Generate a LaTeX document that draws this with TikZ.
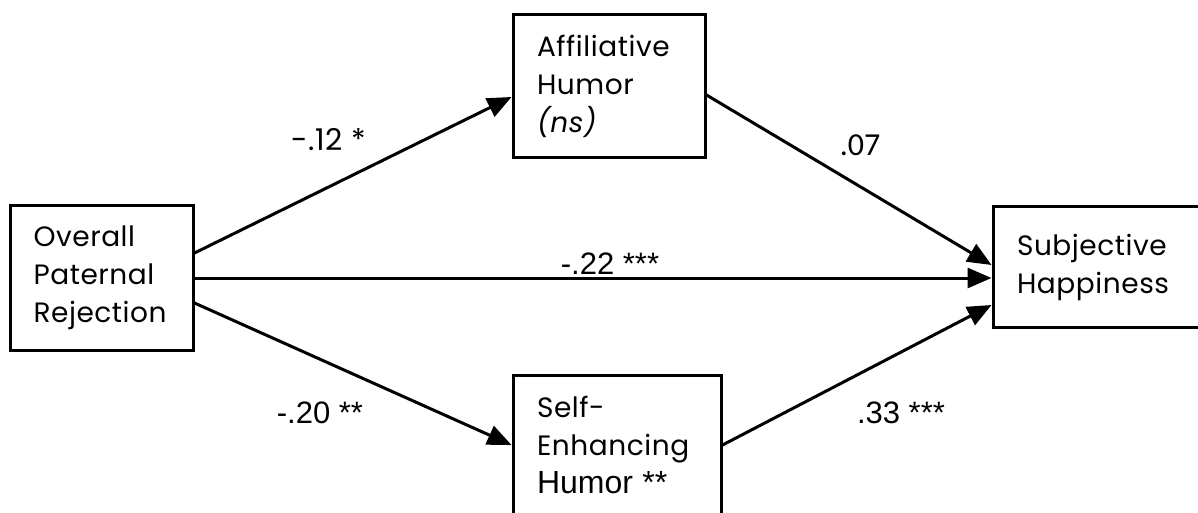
\documentclass[tikz,border=0pt]{standalone}
\usepackage{fontspec}
\setmainfont{Poppins}[LetterSpace=2]
\newfontfamily\arialfont{Liberation Sans}
\newfontfamily\calfont{Carlito}
\usetikzlibrary{arrows.meta}
\hyphenpenalty=10000
\exhyphenpenalty=10000

\tikzset{
  var/.style={draw, line width=1.5pt, align=left, inner xsep=12pt,
    font=\fontsize{14}{19}\selectfont},
  path/.style={-{Triangle[length=12pt,width=10pt]}, line width=1.5pt},
  coef/.style={font=\fontsize{15}{16}\selectfont},
  acoef/.style={font=\arialfont\fontsize{15.5}{16}\selectfont}
}

\begin{document}
\begin{tikzpicture}[x=0.5pt, y=-0.5pt]

  \useasboundingbox (0,0) rectangle (1198,513);

  \node[var, text width=68pt, minimum width=91.5pt, minimum height=72pt, inner xsep=11.5pt]
    (rej) at (101.5, 278) {Overall\\Paternal\\Rejection};
  \node[var, text width=72pt, minimum width=96pt, minimum height=71.5pt]
    (aff) at (609, 86.5) {Affiliative\\Humor\\\textit{(ns)}};
  \node[var, text width=80pt, minimum width=104pt, minimum height=70pt]
    (self) at (617, 445) {Self-\\Enhancing\\{\arialfont\fontsize{16}{19}\selectfont Humor **}};
  \node[var, text width=79.5pt, minimum width=103.5pt, minimum height=60pt]
    (hap) at (1096.5, 267) {Subjective\\Happiness};

  \node[coef] (c12) at (329, 140) {-.12 *};
  \node[acoef] (c20) at (320, 413) {-.20 **};
  \node[coef, font=\calfont\fontsize{16}{16}\selectfont] (c07) at (860, 145) {.07};
  \node[acoef] (c33) at (901, 413) {.33 ***};
  \node[acoef] (c22) at (610, 264) {-.22 ***};

  \draw [path] ([yshift=12.5pt]rej.east) -- ([yshift=-5.25pt]aff.west);
  \draw [path] (rej.east) -- ([yshift=-5.5pt]hap.west);
  \draw [path] ([yshift=-12.5pt]rej.east) -- (self.west);
  \draw [path] ([yshift=-4.25pt]aff.east) -- ([yshift=1pt]hap.west);
  \draw [path] (self.east) -- ([yshift=-19pt]hap.west);

\end{tikzpicture}
\end{document}
